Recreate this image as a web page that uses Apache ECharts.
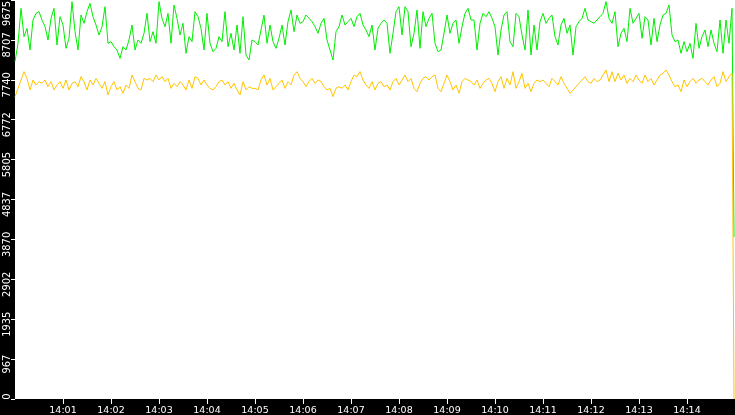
<!DOCTYPE html>
<html>
<head>
<meta charset="utf-8">
<script src="https://cdn.jsdelivr.net/npm/echarts@6/dist/echarts.min.js"></script>
<style>
  html, body { margin: 0; padding: 0; background: #000; }
  #chart { width: 735px; height: 415px; }
</style>
</head>
<body>
<div id="chart"></div>
<script>
    // seconds after 14:00:00, one sample every 3.75 s, last one is the drop
    const sampleStep = 3.75;
    const dropAt = 898.75;

    const greenValues = [
        8180, 8624, 9473, 8786, 8988, 8463, 9190, 9352, 9392, 9190, 9028, 8705, 9230, 9473, 8584, 9271, 9069, 8503, 8745, 9635,
        8907, 8463, 9311, 9109, 9392, 9594, 9271, 9069, 8826, 9028, 9513, 8624, 8665, 8543, 8463, 8260, 8543, 8463, 8705, 9069,
        8463, 8705, 8624, 8867, 9352, 8665, 8907, 8624, 9635, 9230, 9028, 9352, 8624, 9554, 9230, 8826, 9109, 8382, 8786, 8665,
        9392, 9271, 8988, 8463, 9352, 8624, 8422, 8503, 8786, 8665, 9392, 8543, 8867, 8463, 9069, 8382, 9271, 8341, 8220, 8705,
        8665, 8584, 8948, 9311, 8624, 9069, 8665, 8503, 8745, 9069, 8584, 9150, 9433, 8907, 9311, 9109, 9150, 9311, 9230, 9150,
        9028, 8867, 9109, 9230, 8705, 8463, 8220, 8907, 9028, 9311, 9069, 9150, 9230, 9028, 9271, 9352, 9069, 8948, 8786, 9069,
        8463, 8988, 9109, 9190, 9109, 8382, 8867, 9392, 9513, 8826, 9513, 9392, 8543, 8867, 9433, 8503, 9392, 9028, 9230, 9352,
        8624, 8422, 8463, 8867, 9311, 8867, 9109, 9190, 8624, 9028, 9352, 9473, 9190, 9190, 8463, 9109, 9352, 9271, 9392, 9230,
        9028, 8341, 8948, 9311, 9392, 8665, 8543, 9352, 9271, 8826, 8463, 9433, 8341, 9069, 8463, 9150, 9352, 9109, 9230, 9311,
        8786, 8584, 9069, 9230, 8867, 9069, 8341, 9028, 9150, 9230, 9473, 9190, 9150, 9109, 9190, 9271, 9352, 9635, 9230, 9109,
        9392, 8543, 8867, 8988, 8665, 9473, 9109, 9230, 9352, 8745, 9271, 9190, 8584, 9230, 8665, 9069, 9311, 9352, 9554, 8826,
        8665, 8705, 8382, 8665, 8422, 8624, 8260, 9109, 8503, 8786, 8948, 8543, 8948, 8624, 8422, 9190, 8382, 9190, 8624, 9473
    ];
    const greenLast = 3928;

    const yellowValues = [
        7331, 7533, 7735, 7937, 7775, 7493, 7735, 7614, 7695, 7654, 7735, 7573, 7695, 7493, 7614, 7695, 7533, 7735, 7493, 7654,
        7695, 7573, 7816, 7695, 7493, 7735, 7614, 7775, 7654, 7533, 7695, 7371, 7573, 7695, 7493, 7573, 7412, 7614, 7533, 7856,
        7695, 7533, 7493, 7775, 7735, 7775, 7695, 7856, 7735, 7816, 7695, 7775, 7533, 7654, 7573, 7695, 7614, 7493, 7735, 7533,
        7816, 7775, 7614, 7735, 7614, 7533, 7493, 7573, 7695, 7735, 7614, 7695, 7533, 7654, 7493, 7371, 7695, 7493, 7573, 7533,
        7533, 7493, 7735, 7856, 7614, 7775, 7493, 7573, 7654, 7735, 7533, 7695, 7614, 7856, 7937, 7775, 7695, 7573, 7695, 7775,
        7654, 7735, 7695, 7573, 7493, 7533, 7331, 7533, 7573, 7533, 7614, 7493, 7695, 7856, 7816, 7937, 7735, 7614, 7533, 7695,
        7493, 7654, 7695, 7573, 7614, 7493, 7695, 7775, 7614, 7735, 7856, 7695, 7775, 7533, 7452, 7654, 7775, 7816, 7735, 7816,
        7856, 7533, 7452, 7654, 7856, 7695, 7493, 7614, 7412, 7695, 7775, 7735, 7695, 7614, 7735, 7533, 7654, 7735, 7775, 7654,
        7452, 7695, 7816, 7533, 7775, 7614, 7937, 7533, 7695, 7897, 7533, 7654, 7452, 7654, 7735, 7695, 7735, 7654, 7573, 7775,
        7695, 7614, 7816, 7654, 7533, 7412, 7493, 7573, 7654, 7735, 7816, 7695, 7654, 7775, 7695, 7735, 7856, 7978, 7695, 7937,
        7695, 7897, 7735, 7856, 7654, 7775, 7695, 7856, 7735, 7654, 7856, 7695, 7775, 7614, 7735, 7856, 7897, 7978, 7856, 7695,
        7573, 7614, 7452, 7735, 7573, 7695, 7775, 7654, 7735, 7775, 7695, 7614, 7735, 7816, 7573, 7654, 7937, 7695, 7816, 7897
    ];
    const yellowLast = 0;

    const yMax = 9675;
    const yStep = 967.5;
    const hourLabel = '14';
    const labelFont = '"DejaVu Sans Condensed", "DejaVu Sans", sans-serif';

    function toPairs(values, last) {
        const pts = values.map((v, i) => [i * sampleStep, v]);
        pts.push([dropAt, last]);
        return pts;
    }

    const chart = echarts.init(document.getElementById('chart'));
    chart.setOption({
        backgroundColor: '#000',
        animation: false,
        grid: {
            left: 15, right: 0, top: 0, bottom: 16,
            containLabel: false,
            outerBoundsMode: 'none',
            show: true,
            backgroundColor: '#fff',
            borderWidth: 0
        },
        xAxis: {
            type: 'value',
            min: 0,
            max: 900,
            interval: 60,
            axisLine: { show: false },
            axisTick: { show: true, length: 5, lineStyle: { color: '#fff', width: 1 } },
            splitLine: { show: false },
            axisLabel: {
                showMinLabel: false,
                showMaxLabel: false,
                color: '#fff',
                fontFamily: 'DejaVu Sans',
                fontSize: 9.5,
                margin: 7,
                formatter: function (v) {
                    const m = Math.round(v / 60);
                    return hourLabel + ':' + (m < 10 ? '0' + m : m);
                }
            }
        },
        yAxis: {
            type: 'value',
            min: 0,
            max: yMax,
            interval: yStep,
            axisLine: { show: false },
            axisTick: { show: true, length: 4, lineStyle: { color: '#fff', width: 1 } },
            splitLine: { show: false },
            axisLabel: {
                rotate: 90,
                color: '#fff',
                fontFamily: labelFont,
                fontSize: 11,
                margin: 2,
                // labels sit a little below their tick; the end ones are pulled inside
                formatter: function (v) {
                    const txt = String(Math.floor(v));
                    if (v >= yMax) return '{top|' + txt + '}';
                    if (v <= 0) return '{bot|' + txt + '}';
                    return '{mid|' + txt + '}';
                },
                rich: {
                    top: { color: '#fff', fontFamily: labelFont, fontSize: 11, padding: [0, 27, 0, 0] },
                    mid: { color: '#fff', fontFamily: labelFont, fontSize: 11, padding: [0, 10, 0, 0] },
                    bot: { color: '#fff', fontFamily: labelFont, fontSize: 11, padding: [0, 0, 0, 5] }
                }
            }
        },
        series: [
            {
                name: 'green',
                type: 'line',
                data: toPairs(greenValues, greenLast),
                showSymbol: false,
                lineStyle: { color: '#00ee00', width: 1 },
                itemStyle: { color: '#00ee00' }
            },
            {
                name: 'yellow',
                type: 'line',
                data: toPairs(yellowValues, yellowLast),
                showSymbol: false,
                lineStyle: { color: '#ffc400', width: 1 },
                itemStyle: { color: '#ffc400' }
            }
        ]
    });
</script>
</body>
</html>
